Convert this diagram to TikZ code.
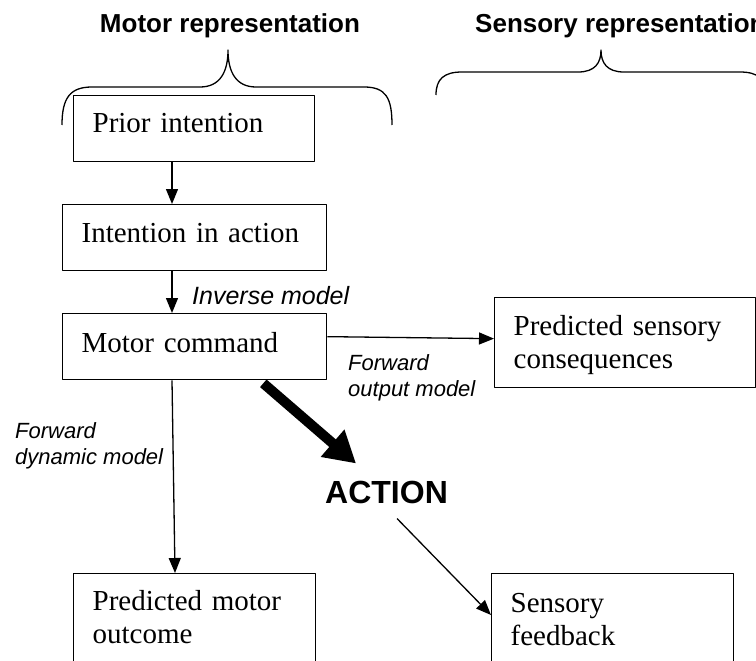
\documentclass[tikz,border=0pt]{standalone}
\usepackage{fontspec}
\setmainfont{Liberation Serif}
\newfontfamily\arialfont{Liberation Sans}
\usetikzlibrary{arrows.meta}

\newcommand\boxfont{\fontsize{29pt}{33pt}\selectfont}
\newcommand\labfont{\arialfont\itshape\fontsize{22pt}{26pt}\selectfont}
\newcommand\headfont{\arialfont\bfseries\fontsize{26pt}{30pt}\selectfont}

\begin{document}
\begin{tikzpicture}[x=1pt, y=-1pt, line join=round,
	box/.style={draw, line width=1.3pt, anchor=north west, align=left, inner xsep=19pt, inner ysep=0pt, font=\boxfont},
	lab/.style={inner sep=0pt, align=left, font=\labfont},
	arr/.style={-{Triangle[length=15pt,width=12pt]}, line width=1.3pt},
	brace/.style={line width=1.3pt}
	]
	\useasboundingbox (0,0) rectangle (756,661);
	% headings and braces
	\node[font=\headfont, inner sep=0pt, anchor=base] (mrep) at (230,33) {Motor representation};
	\node[font=\headfont, inner sep=0pt, anchor=base west] (srep) at (475,33) {Sensory representation};
	\draw[brace] (62,125) .. controls (62,98) and (70,87) .. (92,87) -- (200,87) .. controls (220,87) and (228,72) .. (228,50) .. controls (228,72) and (236,87) .. (256,87) -- (364,87) .. controls (386,87) and (392,98) .. (392,125);
	\draw[brace] (436,95) .. controls (436,79) and (444,72) .. (462,72) -- (578,72) .. controls (595,72) and (601,63) .. (601,50) .. controls (601,63) and (607,72) .. (624,72) -- (740,72) .. controls (758,72) and (766,79) .. (766,95);
	% boxes
	\node[box, text width=203pt, text height=37pt, text depth=29pt] (pint) at (73,95) {Prior intention};
	\node[box, text width=226pt, text height=38pt, text depth=28pt] (iact) at (62,204) {Intention in action};
	\node[box, text width=226pt, text height=39pt, text depth=27pt] (mcom) at (62,313) {Motor command};
	\node[box, text width=223pt, text height=38pt, text depth=52pt] (psc) at (494,297) {Predicted sensory\\consequences};
	\node[box, text width=204pt, text height=37pt, text depth=52pt] (pmo) at (73,573) {Predicted motor\\outcome};
	\node[box, text width=204pt, text height=39pt, text depth=50pt] (sfb) at (491,573) {Sensory\\feedback};
	% labels
	\node[lab, font=\arialfont\itshape\fontsize{25pt}{30pt}\selectfont, anchor=base west] (inv) at (192,304) {Inverse model};
	\node[lab, anchor=north west] (fout) at (348,354) {Forward\\output model};
	\node[lab, anchor=north west] (fdyn) at (15,422) {Forward\\dynamic model};
	\node[font=\arialfont\bfseries\fontsize{32pt}{38pt}\selectfont, inner sep=0pt, anchor=base west] (act) at (325,503) {ACTION};
	% arrows
	\draw[arr] ([xshift=99pt]pint.south west) -- ([xshift=110pt]iact.north west);
	\draw[arr] ([xshift=110pt]iact.south west) -- ([xshift=110pt]mcom.north west);
	\draw[arr] ([xshift=110pt]mcom.south west) -- ([xshift=102pt]pmo.north west);
	\draw[arr] ([yshift=10pt]mcom.east) -- ([yshift=4pt]psc.west);
	\draw[line width=10pt, -{Triangle[length=31pt,width=34pt]}] ([xshift=-64pt,yshift=-3pt]mcom.south east) -- ([xshift=31pt,yshift=17pt]act.north west);
	\draw[arr] ([xshift=72pt,yshift=-15pt]act.south west) -- ([yshift=-42pt]sfb.north west);
\end{tikzpicture}
\end{document}
